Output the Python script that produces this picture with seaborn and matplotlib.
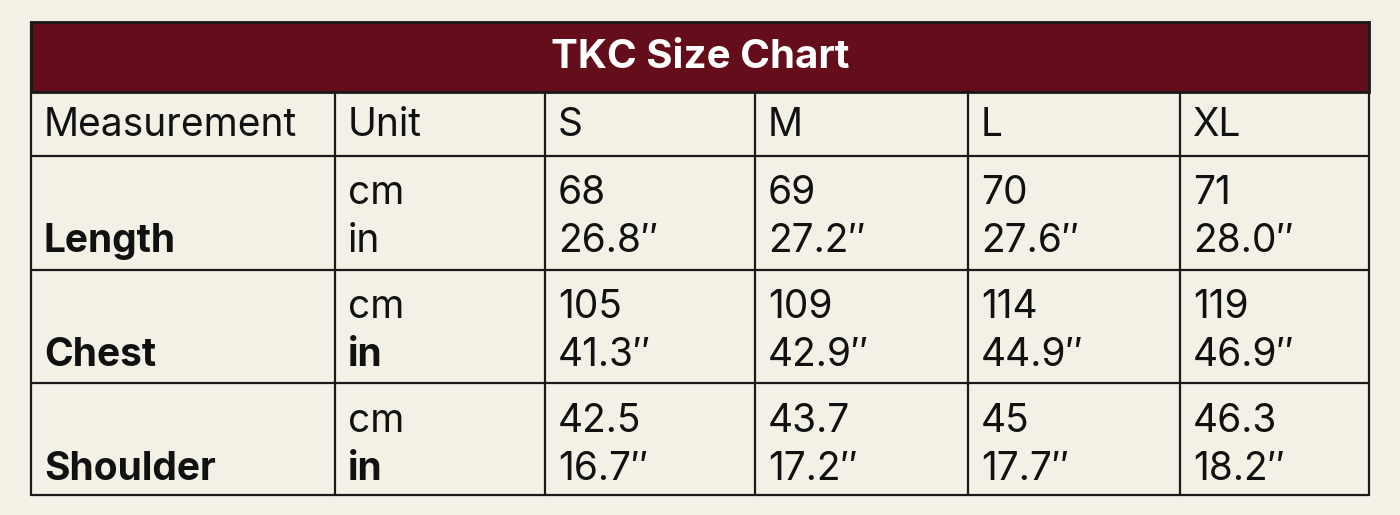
import matplotlib
matplotlib.use("Agg")
import matplotlib.pyplot as plt
import seaborn as sns

sns.set_theme(style="white")
plt.rcParams['font.family'] = ['Inter', 'DejaVu Sans']

title = "TKC Size Chart"
headers = ["Measurement", "Unit", "S", "M", "L", "XL"]
measures = ["Length", "Chest", "Shoulder"]
units = ["cm", "in"]
cm_vals = [["68", "69", "70", "71"],
           ["105", "109", "114", "119"],
           ["42.5", "43.7", "45", "46.3"]]
in_vals = [["26.8\u2033", "27.2\u2033", "27.6\u2033", "28.0\u2033"],
           ["41.3\u2033", "42.9\u2033", "44.9\u2033", "46.9\u2033"],
           ["16.7\u2033", "17.2\u2033", "17.7\u2033", "18.2\u2033"]]
bold_in = [False, True, True]

bg = "#F3F0E6"
red = "#650E1B"
col_x = [31, 335, 545, 755, 968, 1180, 1369]
row_y = [22, 92, 156, 270, 383, 495]

fig = plt.figure(figsize=(14, 5.15), dpi=100, facecolor=bg)
ax = fig.add_axes([0, 0, 1, 1])
ax.set_xlim(0, 1400)
ax.set_ylim(515, 0)
ax.axis("off")
ax.set_facecolor(bg)

ax.add_patch(plt.Rectangle((col_x[0], row_y[0]), col_x[-1] - col_x[0], row_y[1] - row_y[0],
                           facecolor=red, edgecolor="#1a1a1a", lw=2))
ax.text(700, 57, title, color="white", fontsize=29, fontweight="bold", ha="center", va="center")

lw = 1.6
for y in row_y[1:]:
    ax.plot([col_x[0], col_x[-1]], [y, y], color="#1a1a1a", lw=lw)
for x in [col_x[0], col_x[-1]]:
    ax.plot([x, x], [row_y[0], row_y[-1]], color="#1a1a1a", lw=lw)
for x in col_x[1:-1]:
    ax.plot([x, x], [row_y[1], row_y[-1]], color="#1a1a1a", lw=lw)

fs = 28
for i, h in enumerate(headers):
    ax.text(col_x[i] + 13, 126, h, fontsize=fs, va="center", ha="left", color="#111")

for r, m in enumerate(measures):
    top = row_y[r + 2]
    y1, y2 = top + 38, top + 86
    ax.text(col_x[0] + 13, y2, m, fontsize=fs, fontweight="bold", va="center", color="#111")
    ax.text(col_x[1] + 13, y1, units[0], fontsize=fs, va="center", color="#111")
    ax.text(col_x[1] + 13, y2, units[1], fontsize=fs, va="center", color="#111",
            fontweight="bold" if bold_in[r] else "normal")
    for c in range(4):
        ax.text(col_x[c + 2] + 13, y1, cm_vals[r][c], fontsize=fs, va="center", color="#111")
        ax.text(col_x[c + 2] + 13, y2, in_vals[r][c], fontsize=fs, va="center", color="#111")

fig.savefig("out.png", dpi=100, facecolor=bg)
